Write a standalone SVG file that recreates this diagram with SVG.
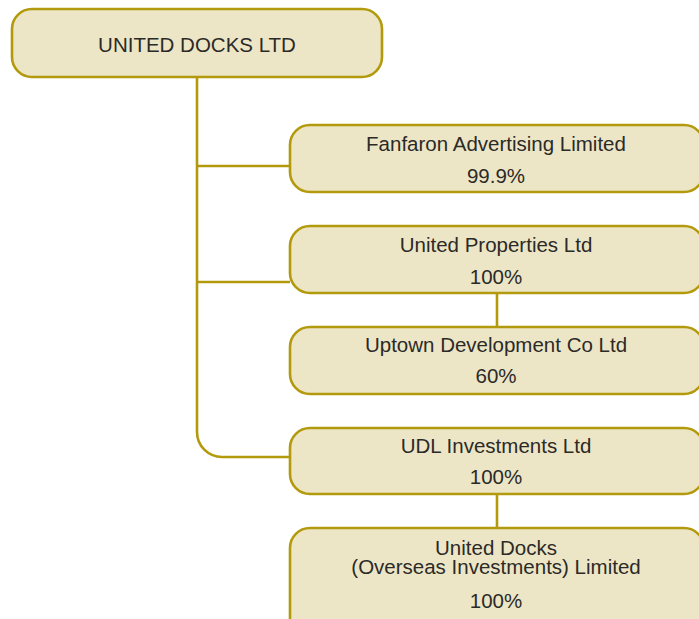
<svg xmlns="http://www.w3.org/2000/svg" width="699" height="619" viewBox="0 0 699 619">
  <style>
    .box { fill: #ede6c6; stroke: #b39a0c; stroke-width: 2.6; }
    .link { fill: none; stroke: #b39a0c; stroke-width: 2.6; }
    .lbl { font-family: "Liberation Sans", "DejaVu Sans", sans-serif; font-size: 20.5px; fill: #2b2a27; text-anchor: middle; }
    .title { font-size: 20.5px; }
  </style>
  <rect width="699" height="619" fill="#ffffff"/>

  <!-- connectors -->
  <g id="connectors">
    <path class="link" d="M197,77 V432 A25,25 0 0 0 222,457 H290"/>
    <path class="link" d="M197,166 H290"/>
    <path class="link" d="M197,282 H290"/>
    <path class="link" d="M497,293 V327"/>
    <path class="link" d="M497,494 V528"/>
  </g>

  <g id="united-docks-ltd">
    <rect class="box" x="12" y="9" width="370" height="68" rx="20"/>
    <text class="lbl title" x="197" y="52">UNITED DOCKS LTD</text>
  </g>

  <g id="fanfaron">
    <rect class="box" x="290" y="125" width="414" height="67" rx="20"/>
    <text class="lbl" x="496" y="151">Fanfaron Advertising Limited</text>
    <text class="lbl" x="496" y="183">99.9%</text>
  </g>

  <g id="united-properties">
    <rect class="box" x="290" y="226" width="414" height="67" rx="20"/>
    <text class="lbl" x="496" y="252">United Properties Ltd</text>
    <text class="lbl" x="496" y="284">100%</text>
  </g>

  <g id="uptown-development">
    <rect class="box" x="290" y="327" width="414" height="67" rx="20"/>
    <text class="lbl" x="496" y="352">Uptown Development Co Ltd</text>
    <text class="lbl" x="496" y="383">60%</text>
  </g>

  <g id="udl-investments">
    <rect class="box" x="290" y="428" width="414" height="66" rx="20"/>
    <text class="lbl" x="496" y="453">UDL Investments Ltd</text>
    <text class="lbl" x="496" y="484">100%</text>
  </g>

  <g id="ud-overseas">
    <rect class="box" x="290" y="528" width="414" height="110" rx="20"/>
    <text class="lbl" x="496" y="555">United Docks</text>
    <text class="lbl" x="496" y="574">(Overseas Investments) Limited</text>
    <text class="lbl" x="496" y="608">100%</text>
  </g>
</svg>
